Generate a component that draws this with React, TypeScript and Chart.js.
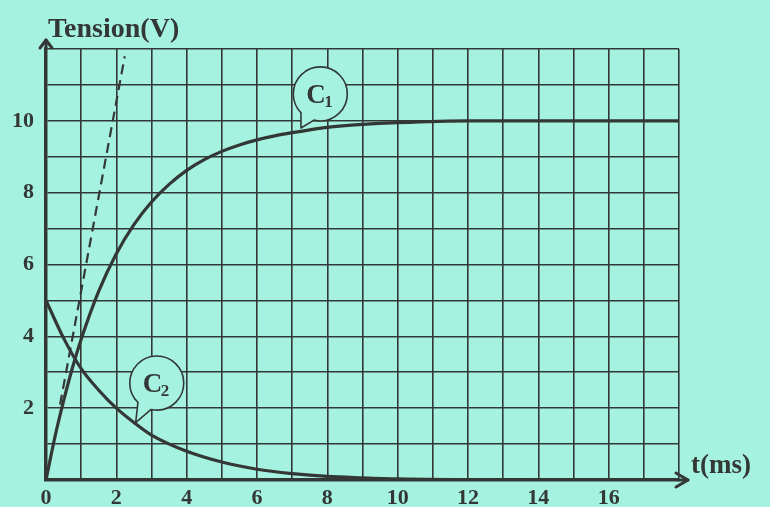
import React, { useEffect, useRef } from "react";
import { Chart, registerables } from "chart.js";

Chart.register(...registerables);

// ---- data ----
const timeC1 = [0, 0.25, 0.5, 0.75, 1, 1.5, 2, 2.5, 3, 3.5, 4, 4.5, 5, 5.5, 6, 6.5, 7, 7.5, 8, 9, 10, 12, 14, 16, 18];
const voltC1 = [0, 1.18, 2.2, 3.12, 3.92, 5.26, 6.3, 7.11, 7.74, 8.23, 8.62, 8.92, 9.15, 9.33, 9.47, 9.58, 9.67, 9.75, 9.82, 9.9, 9.95, 10.0, 10.0, 10.0, 10.0];

const timeC2 = [0, 0.5, 1, 1.5, 2, 2.5, 3, 4, 5, 6, 7, 8, 9, 10, 12, 14, 16, 18];
const voltC2 = [5, 3.95, 3.1, 2.5, 2.0, 1.6, 1.25, 0.8, 0.5, 0.3, 0.18, 0.1, 0.06, 0.03, 0.01, 0, 0, 0];

const tangentTime = [0.4, 2.24];
const tangentVolt = [2.1, 11.8];

const xTickLabels = [0, 2, 4, 6, 8, 10, 12, 14, 16];
const yTickLabels = [2, 4, 6, 8, 10];

const curveNames = ["C", "C"];
const curveSubs = ["1", "2"];
// callout bubbles: centre and tip in data units
const calloutCentre = [[7.8, 10.75], [3.15, 2.7]];
const calloutTip = [[7.25, 9.8], [2.55, 1.6]];

const BG = "#A6F2E0";
const INK = "#333836";
const SERIF = "'Liberation Serif', 'DejaVu Serif', serif";

const toPoints = (xs: number[], ys: number[]) => xs.map((x, i) => ({ x, y: ys[i] }));

const decorPlugin = {
  id: "decor",
  beforeDraw(chart: any) {
    const ctx = chart.ctx;
    ctx.save();
    ctx.fillStyle = BG;
    ctx.fillRect(0, 0, chart.width, chart.height);
    ctx.restore();
  },
  afterDraw(chart: any) {
    const ctx = chart.ctx;
    const xs = chart.scales.x;
    const ys = chart.scales.y;
    const { left, right, top, bottom } = chart.chartArea;
    ctx.save();
    ctx.strokeStyle = INK;
    ctx.fillStyle = INK;
    ctx.lineCap = "round";
    ctx.lineJoin = "round";
    // y axis arrow
    ctx.lineWidth = 3;
    ctx.beginPath();
    ctx.moveTo(left, top);
    ctx.lineTo(left, top - 9);
    ctx.stroke();
    ctx.beginPath();
    ctx.moveTo(left - 6, top - 1);
    ctx.lineTo(left, top - 9);
    ctx.lineTo(left + 6, top - 1);
    ctx.stroke();
    // x axis arrow
    ctx.beginPath();
    ctx.moveTo(right, bottom);
    ctx.lineTo(right + 9, bottom);
    ctx.stroke();
    ctx.beginPath();
    ctx.moveTo(right - 3, bottom - 7);
    ctx.lineTo(right + 9, bottom);
    ctx.lineTo(right - 3, bottom + 7);
    ctx.stroke();

    // axis titles
    ctx.textBaseline = "alphabetic";
    ctx.textAlign = "left";
    ctx.font = `bold 28px ${SERIF}`;
    ctx.fillText("Tension(V)", 48, 37);
    ctx.font = `bold 27px ${SERIF}`;
    ctx.fillText("t(ms)", 691, 473);

    // callouts
    for (let i = 0; i < calloutCentre.length; i++) {
      const cx = xs.getPixelForValue(calloutCentre[i][0]);
      const cy = ys.getPixelForValue(calloutCentre[i][1]);
      const tx = xs.getPixelForValue(calloutTip[i][0]);
      const ty = ys.getPixelForValue(calloutTip[i][1]);
      const r = 27;
      const ang = Math.atan2(ty - cy, tx - cx);
      const spread = 0.28;
      const a1 = ang - spread;
      const a2 = ang + spread;
      ctx.lineWidth = 1.6;
      ctx.fillStyle = BG;
      ctx.beginPath();
      ctx.arc(cx, cy, r, a2, a1 + Math.PI * 2, false);
      ctx.lineTo(tx, ty);
      ctx.closePath();
      ctx.fill();
      ctx.stroke();
      ctx.fillStyle = INK;
      ctx.font = `bold 27px ${SERIF}`;
      ctx.textAlign = "left";
      ctx.textBaseline = "alphabetic";
      ctx.fillText(curveNames[i], cx - 14, cy + 9);
      ctx.font = `bold 17px ${SERIF}`;
      ctx.fillText(curveSubs[i], cx + 4, cy + 13);
    }
    ctx.restore();
  },
};

export default function App() {
  const ref = useRef<HTMLCanvasElement | null>(null);

  useEffect(() => {
    document.body.style.margin = "0";
    document.body.style.background = BG;
    if (!ref.current) return;
    const chart = new Chart(ref.current, {
      type: "line",
      data: {
        datasets: [
          {
            label: "C1",
            data: toPoints(timeC1, voltC1),
            borderColor: INK,
            borderWidth: 3.2,
            pointRadius: 0,
            cubicInterpolationMode: "monotone",
            fill: false,
          },
          {
            label: "C2",
            data: toPoints(timeC2, voltC2),
            borderColor: INK,
            borderWidth: 3.2,
            pointRadius: 0,
            cubicInterpolationMode: "monotone",
            fill: false,
          },
          {
            label: "tangent",
            data: toPoints(tangentTime, tangentVolt),
            borderColor: INK,
            borderWidth: 2.2,
            borderDash: [10, 6],
            pointRadius: 0,
            fill: false,
          },
        ],
      },
      options: {
        responsive: false,
        animation: false,
        devicePixelRatio: 1,
        layout: { padding: { top: 49, right: 91, left: 0, bottom: 0 } },
        plugins: { legend: { display: false }, tooltip: { enabled: false }, title: { display: false } },
        scales: {
          x: {
            type: "linear",
            min: 0,
            max: 18,
            afterFit: (s: any) => {
              s.height = 27;
            },
            ticks: {
              stepSize: 1,
              autoSkip: false,
              maxRotation: 0,
              padding: 5,
              color: INK,
              font: { family: SERIF, weight: "bold", size: 22 },
              callback: (v: any) => (xTickLabels.includes(Number(v)) ? String(v) : ""),
            },
            grid: { color: INK, lineWidth: 1.6, drawTicks: false },
            border: { display: true, color: INK, width: 3.5 },
          },
          y: {
            type: "linear",
            min: 0,
            max: 12,
            afterFit: (s: any) => {
              s.width = 46;
            },
            ticks: {
              stepSize: 1,
              autoSkip: false,
              padding: 12,
              color: INK,
              font: { family: SERIF, weight: "bold", size: 22 },
              callback: (v: any) => (yTickLabels.includes(Number(v)) ? String(v) : ""),
            },
            grid: { color: INK, lineWidth: 1.6, drawTicks: false },
            border: { display: true, color: INK, width: 3.5 },
          },
        },
      },
      plugins: [decorPlugin],
    } as any);
    return () => chart.destroy();
  }, []);

  return <canvas ref={ref} width={770} height={507} style={{ display: "block" }} />;
}
